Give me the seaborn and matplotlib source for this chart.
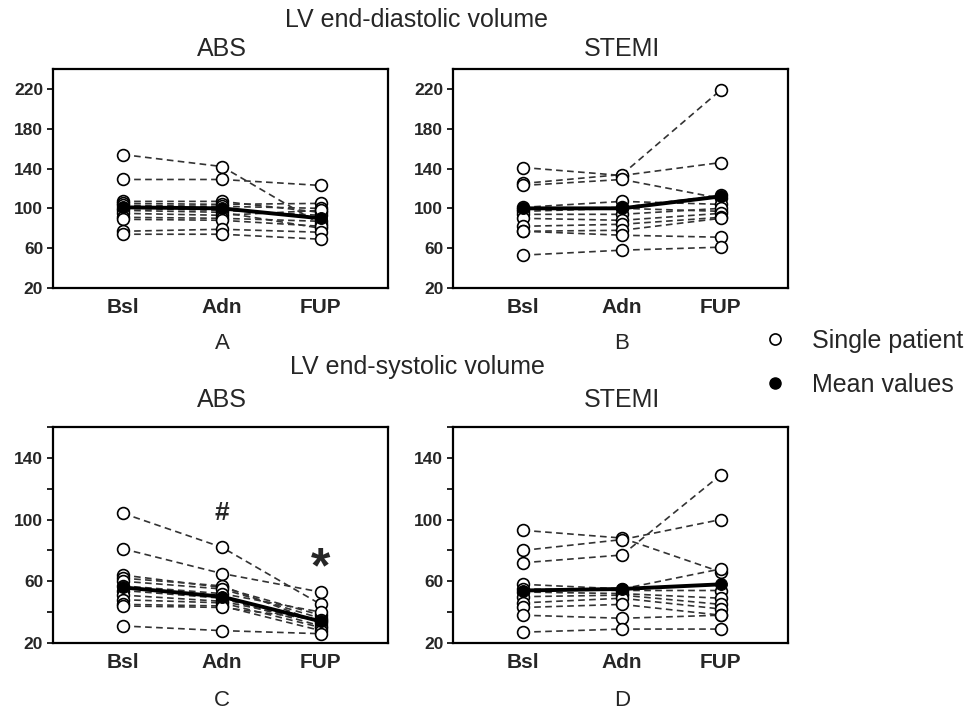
import pandas as pd
import seaborn as sns
import matplotlib.pyplot as plt
from matplotlib.lines import Line2D
from matplotlib.ticker import MultipleLocator

TIMEPOINTS = ["Bsl", "Adn", "FUP"]

# one row per patient: Bsl, Adn, FUP (ml)
edv_abs = [
    [154, 142, 84], [129, 129, 123], [107, 107, 96], [105, 104, 105],
    [103, 102, 100], [100, 98, 93], [98, 96, 80], [95, 93, 98],
    [91, 90, 87], [89, 88, 82], [77, 79, 76], [74, 74, 69],
]
edv_abs_mean = [101, 100, 90]

edv_stemi = [
    [141, 133, 146], [125, 134, 219], [123, 129, 110], [101, 107, 104],
    [99, 101, 113], [97, 100, 97], [94, 94, 100], [90, 88, 95],
    [82, 84, 91], [77, 78, 90], [77, 73, 71], [53, 58, 61],
]
edv_stemi_mean = [100, 100, 112]

esv_abs = [
    [104, 82, 45], [81, 65, 53], [64, 56, 38], [62, 57, 33],
    [60, 55, 36], [57, 52, 40], [54, 49, 31], [51, 47, 34],
    [48, 46, 30], [45, 44, 28], [44, 43, 35], [31, 28, 26],
]
esv_abs_mean = [56, 50, 34]

esv_stemi = [
    [93, 88, 66], [80, 87, 100], [72, 77, 129], [58, 55, 68],
    [55, 54, 54], [53, 52, 49], [50, 51, 45], [46, 49, 42],
    [43, 45, 38], [38, 36, 38], [27, 29, 29],
]
esv_stemi_mean = [54, 55, 58]

PANELS = [
    ("A", "ABS", edv_abs, edv_abs_mean, "edv"),
    ("B", "STEMI", edv_stemi, edv_stemi_mean, "edv"),
    ("C", "ABS", esv_abs, esv_abs_mean, "esv"),
    ("D", "STEMI", esv_stemi, esv_stemi_mean, "esv"),
]

POSITIONS = {
    "A": [0.0542, 0.600, 0.3429, 0.3042],
    "B": [0.4637, 0.600, 0.3429, 0.3042],
    "C": [0.0542, 0.107, 0.3429, 0.300],
    "D": [0.4637, 0.107, 0.3429, 0.300],
}


def to_long(rows):
    recs = []
    for pid, vals in enumerate(rows):
        for t, v in enumerate(vals):
            recs.append({"patient": pid, "time": t, "volume": v})
    return pd.DataFrame(recs)


sns.set_style("white")
plt.rcParams["font.family"] = ["Liberation Sans", "DejaVu Sans"]

fig = plt.figure(figsize=(9.77, 7.2), dpi=100)

for letter, group, rows, mean, kind in PANELS:
    ax = fig.add_axes(POSITIONS[letter])
    df = to_long(rows)
    sns.lineplot(data=df, x="time", y="volume", units="patient", estimator=None,
                 color="#333333", linewidth=1.2, linestyle=(0, (4, 2.6)),
                 marker="o", markersize=8.5, markerfacecolor="white",
                 markeredgecolor="black", markeredgewidth=1.2,
                 legend=False, ax=ax)
    mdf = pd.DataFrame({"time": [0, 1, 2], "volume": mean})
    sns.lineplot(data=mdf, x="time", y="volume", color="black", linewidth=2.8,
                 marker="o", markersize=8.5, markerfacecolor="black",
                 markeredgecolor="black", legend=False, ax=ax, zorder=5)

    ax.set_xlim(-0.71, 2.68)
    if kind == "edv":
        ax.set_ylim(20, 240)
        ax.set_yticks([20, 60, 100, 140, 180, 220])
    else:
        ax.set_ylim(20, 160)
        ax.set_yticks([20, 60, 100, 140])
        ax.yaxis.set_minor_locator(MultipleLocator(20))
    ax.set_xticks([0, 1, 2])
    ax.set_xticklabels(TIMEPOINTS, fontsize=15, fontweight="bold")
    ax.tick_params(axis="x", length=0, pad=7)
    ax.tick_params(axis="y", which="both", direction="out", length=4, width=1.2,
                   labelsize=12.5, pad=3, left=True, color="black")
    for lab in ax.get_yticklabels():
        lab.set_fontweight("bold")
    ax.set_xlabel("")
    ax.set_ylabel("")
    for sp in ax.spines.values():
        sp.set_visible(True)
        sp.set_linewidth(1.6)
        sp.set_color("black")

    if letter == "C":
        ax.text(1, 104, "#", ha="center", va="center", fontsize=19, fontweight="bold")
        ax.text(2, 68, "*", ha="center", va="center", fontsize=36, fontweight="bold")

fig.text(0.4268, 0.972, "LV end-diastolic volume", ha="center", va="center", fontsize=18)
fig.text(0.2272, 0.932, "ABS", ha="center", va="center", fontsize=18)
fig.text(0.6366, 0.932, "STEMI", ha="center", va="center", fontsize=18)
fig.text(0.2272, 0.523, "A", ha="center", va="center", fontsize=16)
fig.text(0.6366, 0.523, "B", ha="center", va="center", fontsize=16)
fig.text(0.4268, 0.490, "LV end-systolic volume", ha="center", va="center", fontsize=18)
fig.text(0.2272, 0.444, "ABS", ha="center", va="center", fontsize=18)
fig.text(0.6366, 0.444, "STEMI", ha="center", va="center", fontsize=18)
fig.text(0.2272, 0.027, "C", ha="center", va="center", fontsize=16)
fig.text(0.6366, 0.027, "D", ha="center", va="center", fontsize=16)

handles = [
    Line2D([], [], linestyle="none", marker="o", markersize=8, markerfacecolor="white",
           markeredgecolor="black", markeredgewidth=1.2),
    Line2D([], [], linestyle="none", marker="o", markersize=8, markerfacecolor="black",
           markeredgecolor="black"),
]
fig.legend(handles, ["Single patient", "Mean values"], loc="center left",
           bbox_to_anchor=(0.757, 0.496), frameon=False, fontsize=18,
           handlelength=1.0, handletextpad=1.0, labelspacing=0.78, borderpad=0.4)

fig.savefig("out.png", dpi=100)
